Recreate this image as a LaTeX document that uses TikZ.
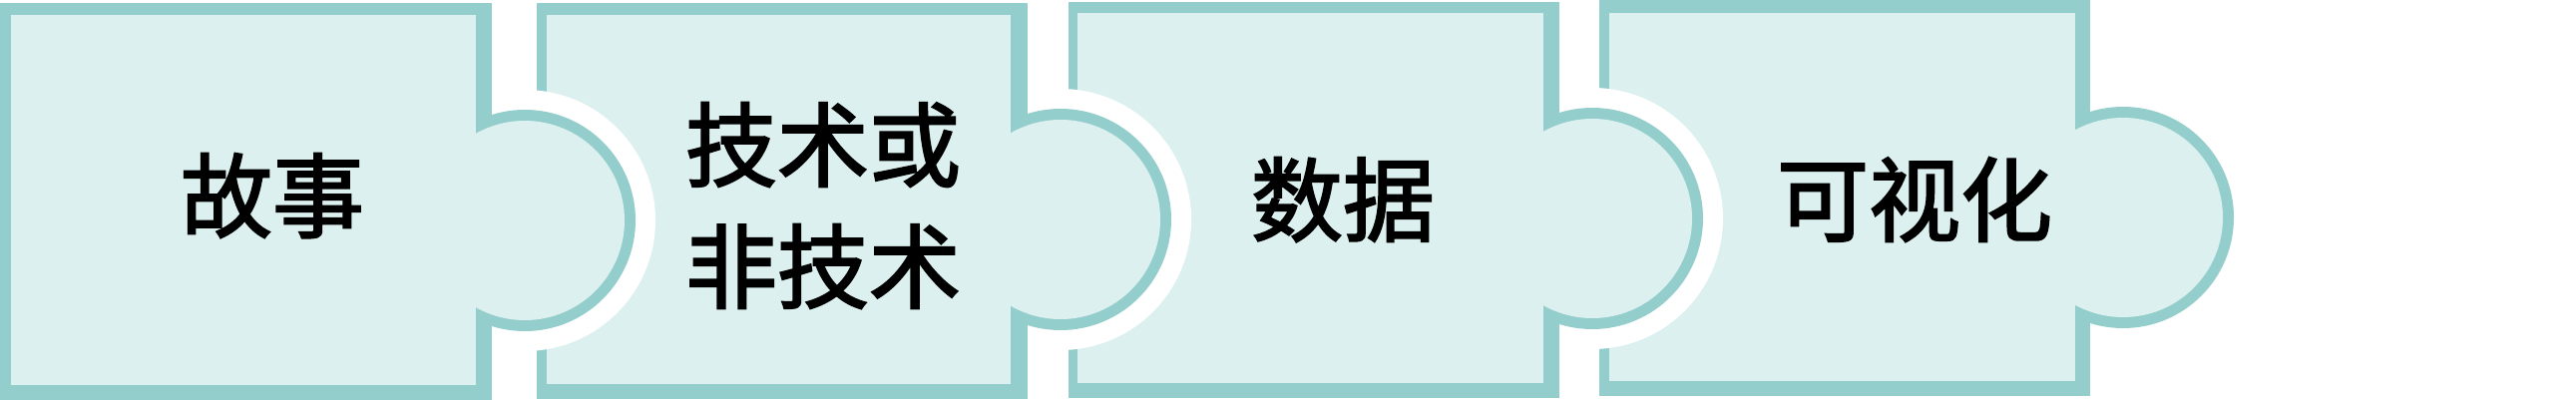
\documentclass[tikz,border=0pt]{standalone}
\usepackage{fontspec}
\newfontfamily\cjk[FakeBold=2.2]{Noto Sans CJK SC}
\definecolor{edgeteal}{RGB}{148,206,204}
\definecolor{facelight}{RGB}{220,240,240}
\begin{document}
\begin{tikzpicture}[x=1pt,y=-1pt,
  lbl/.style={font=\cjk\fontsize{92}{110}\selectfont, anchor=base, inner sep=0pt, text=black},
  halo/.style={fill=white},
  rim/.style={fill=edgeteal},
  face/.style={fill=facelight}]
\useasboundingbox[fill=white] (0,0) rectangle (2582,400);
% ---- piece 4 ----
\fill[rim] (1603,0) rectangle (2095,397);
\fill[rim] (2128,218) circle (111);
\fill[face] (1613,13) rectangle (2080,382);
\fill[face] (2128,218) circle (100);
% ---- piece 3 ----
\fill[halo] (1596,219) circle (131);
\fill[rim] (1071,2) rectangle (1563,399);
\fill[rim] (1596,219) circle (111);
\fill[face] (1080,13) rectangle (1547,384);
\fill[face] (1596,219) circle (100);
% ---- piece 2 ----
\fill[halo] (1063,220) circle (131);
\fill[rim] (538,3) rectangle (1030,400);
\fill[rim] (1063,220) circle (111);
\fill[face] (548,15) rectangle (1013,385);
\fill[face] (1063,220) circle (100);
% ---- piece 1 ----
\fill[halo] (526,221) circle (131);
\fill[rim] (0,3) rectangle (493,401);
\fill[rim] (526,221) circle (111);
\fill[face] (11,15) rectangle (477,386);
\fill[face] (526,221) circle (100);
% ---- labels ----
\node[lbl] (story) at (273,231) {故事};
\node[lbl] (tech1) at (825,180) {技术或};
\node[lbl] (tech2) at (825,302) {非技术};
\node[lbl] (data) at (1346,235) {数据};
\node[lbl] (vis) at (1919,235) {可视化};
\end{tikzpicture}
\end{document}
